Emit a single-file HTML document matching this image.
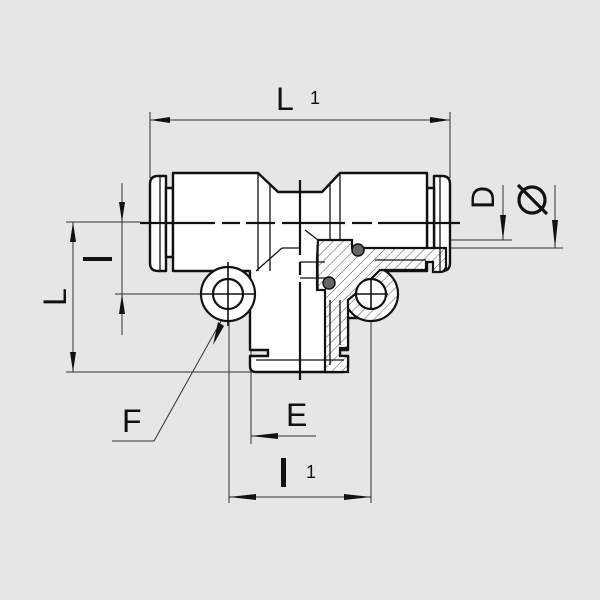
<!DOCTYPE html>
<html><head><meta charset="utf-8"><style>html,body{margin:0;padding:0;background:#e6e6e6}svg{display:block}</style></head>
<body>
<svg width="600" height="600" viewBox="0 0 600 600" xmlns="http://www.w3.org/2000/svg" font-family="Liberation Sans, sans-serif">
<defs>
<pattern id="h" width="7" height="7" patternUnits="userSpaceOnUse" patternTransform="rotate(45)">
<rect width="7" height="7" fill="#fff"/><line x1="0" y1="0" x2="0" y2="7" stroke="#222" stroke-width="0.8"/>
</pattern>
</defs>
<rect width="600" height="600" fill="#e6e6e6"/>
<g stroke="#333" stroke-width="1" fill="none">
<line x1="150" y1="112" x2="150" y2="178"/>
<line x1="450" y1="112" x2="450" y2="178"/>
<line x1="150" y1="120" x2="450" y2="120"/>
<line x1="66" y1="222" x2="140" y2="222"/>
<line x1="115" y1="294" x2="205" y2="294"/>
<line x1="66" y1="372" x2="252" y2="372"/>
<line x1="122" y1="183" x2="122" y2="335"/>
<line x1="73" y1="222" x2="73" y2="372"/>
<line x1="229" y1="300" x2="229" y2="503"/>
<line x1="371" y1="300" x2="371" y2="503"/>
<line x1="229" y1="497" x2="371" y2="497"/>
<line x1="251" y1="335" x2="251" y2="444"/>
<line x1="251" y1="436" x2="316" y2="436"/>
<line x1="440" y1="240" x2="512" y2="240"/>
<line x1="440" y1="248" x2="563" y2="248"/>
<line x1="503" y1="185" x2="503" y2="240"/>
<line x1="555" y1="185" x2="555" y2="248"/>
<polyline points="230,305 154,441 112,441"/>
</g>
<g fill="#111">
<polygon points="150,120 170,117 170,123"/><polygon points="450,120 430,117 430,123"/>
<polygon points="122,222 119,202 125,202"/><polygon points="122,294 119,314 125,314"/>
<polygon points="73,222 70,242 76,242"/><polygon points="73,372 70,352 76,352"/>
<polygon points="229,497 256,494 256,500"/><polygon points="371,497 344,494 344,500"/>
<polygon points="251,436 278,433 278,439"/>
<polygon points="503,240 500,215 506,215"/><polygon points="555,248 552,220 558,220"/>
<polygon points="218,322 224,326 213,345"/>
</g>
<g stroke="#111" stroke-width="2.4" fill="#fff" stroke-linejoin="round">
<path d="M158,176 H166 V271 H158 Q150,271 150,263 V184 Q150,176 158,176 Z"/>
<path d="M442,176 H434 V271 H442 Q450,271 450,263 V184 Q450,176 442,176 Z"/>
<rect x="166" y="188" width="7" height="69"/>
<rect x="427" y="188" width="7" height="69"/>
<path d="M173,173 H258 L278,192 H322 L340,173 H427 V271 H373 V318 H348 V350 H340 V356 H348 V366 Q348,372 342,372 H256 Q250,372 250,366 V356 H268 V350 H250 V271 H173 Z"/>
</g>
<g stroke="#111" stroke-width="2.2">
<circle cx="371" cy="294" r="27" fill="url(#h)"/>
<path d="M318,240 H352 V248 H446 V266 Q446,272 440,272 H433 V262 H426 V270 H380 L360,290 L348,300 V348 H340 V356 H348 V372 H325 V290 H317 V258 Z" fill="url(#h)"/>
<circle cx="371" cy="294" r="15" fill="#fff"/>
<circle cx="228" cy="294" r="27" fill="#fff"/>
<circle cx="228" cy="294" r="15" fill="#fff"/>
</g>
<g stroke="#111" stroke-width="1.3" fill="none">
<line x1="330" y1="300" x2="330" y2="365"/><line x1="340" y1="300" x2="340" y2="345"/>
<line x1="375" y1="260" x2="426" y2="260"/>
<line x1="318" y1="240" x2="318" y2="290"/>
<line x1="258" y1="173" x2="258" y2="271"/><line x1="270" y1="185" x2="270" y2="271"/>
<line x1="330" y1="185" x2="330" y2="240"/><line x1="340" y1="173" x2="340" y2="240"/>
<line x1="160" y1="176" x2="160" y2="271"/><line x1="440" y1="176" x2="440" y2="271"/>
<line x1="256" y1="271" x2="282" y2="248"/><line x1="282" y1="248" x2="300" y2="248"/>
<line x1="300" y1="262" x2="325" y2="262"/><line x1="300" y1="278" x2="325" y2="278"/>
<line x1="305" y1="230" x2="318" y2="240"/>
<line x1="256" y1="360" x2="344" y2="360"/>
</g>
<g fill="#666" stroke="#111" stroke-width="1.5">
<circle cx="358" cy="250" r="6"/><circle cx="329" cy="283" r="6"/>
</g>
<g stroke="#111" stroke-width="2.2">
<line x1="140" y1="223" x2="215" y2="223"/><line x1="222" y1="223" x2="240" y2="223"/><line x1="246" y1="223" x2="275" y2="223"/>
<line x1="282" y1="223" x2="345" y2="223"/><line x1="352" y1="223" x2="372" y2="223"/><line x1="378" y1="223" x2="460" y2="223"/>
<line x1="300" y1="180" x2="300" y2="255"/><line x1="300" y1="262" x2="300" y2="275"/><line x1="300" y1="282" x2="300" y2="380"/>
</g>
<g stroke="#111" stroke-width="1.6">
<line x1="200" y1="294" x2="256" y2="294"/><line x1="228" y1="262" x2="228" y2="326"/>
<line x1="355" y1="294" x2="388" y2="294"/><line x1="371" y1="278" x2="371" y2="310"/>
</g>
<g fill="#111">
<text x="276" y="110" font-size="32">L</text>
<text x="310" y="104" font-size="18">1</text>
<text x="122" y="432" font-size="32">F</text>
<text x="286" y="426" font-size="32">E</text>
<rect x="281" y="458" width="5" height="29"/>
<text x="306" y="478" font-size="18">1</text>
<rect x="83" y="257" width="29" height="4"/>
<text transform="translate(66,306) rotate(-90)" font-size="32">L</text>
<text transform="translate(494,209) rotate(-90)" font-size="32">D</text>
</g>
<g stroke="#111" stroke-width="3.2" fill="none">
<circle cx="532" cy="200" r="13"/><line x1="518" y1="185" x2="547" y2="214"/>
</g>
</svg>
</body></html>
